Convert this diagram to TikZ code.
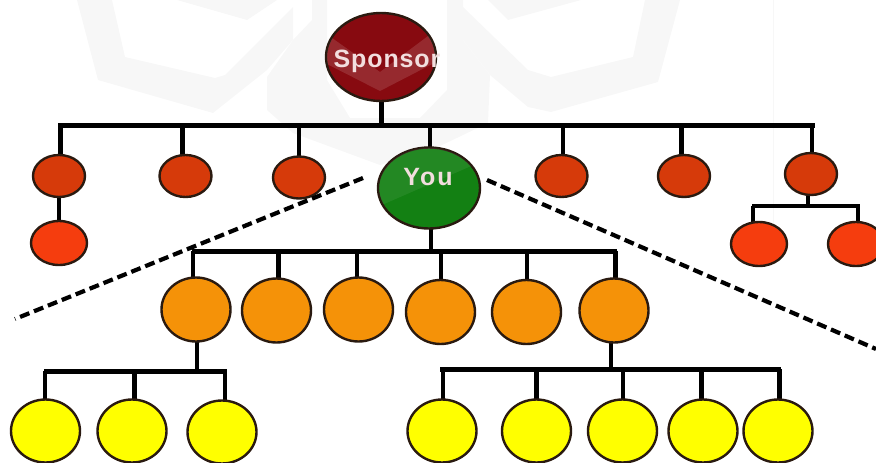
\documentclass[tikz,border=0pt]{standalone}
\usepackage{fontspec}
\setmainfont{Liberation Sans}
\usetikzlibrary{backgrounds,shapes.geometric}
\definecolor{cspon}{HTML}{870A10}
\definecolor{cred}{HTML}{D63A0A}
\definecolor{cchild}{HTML}{F53D0E}
\definecolor{cgreen}{HTML}{138013}
\definecolor{corange}{HTML}{F59208}
\definecolor{cyellow}{HTML}{FFFF00}
\definecolor{cedge}{HTML}{2A1A10}
\definecolor{cmark}{HTML}{F7F7F7}
\definecolor{ctext}{HTML}{F2DEDE}
\tikzset{
  person/.style={ellipse,draw=cedge,line width=2.4pt,inner sep=0pt},
  sponsorn/.style={person,fill=cspon,minimum width=110pt,minimum height=88pt},
  youn/.style={person,fill=cgreen,minimum width=102pt,minimum height=81pt},
  redn/.style={person,fill=cred,minimum width=52pt,minimum height=42pt},
  childn/.style={person,fill=cchild,minimum width=56pt,minimum height=44pt},
  orangen/.style={person,fill=corange,minimum width=69pt,minimum height=64pt},
  yellown/.style={person,fill=cyellow,minimum width=69pt,minimum height=63pt},
  thick5/.style={line width=5pt,black},
  thick4/.style={line width=4pt,black},
  thick3/.style={line width=3.2pt,black},
  caption/.style={anchor=base,inner sep=0pt,text=ctext,font=\fontsize{25}{25}\selectfont\bfseries},
  boundary/.style={line width=4.2pt,black,dash pattern=on 10pt off 5pt},
  watermark/.style={fill=cmark,draw=none},
  overlay/.style={fill=white,fill opacity=0.13,draw=none}
}
\begin{document}
\begin{tikzpicture}[x=1pt,y=-1pt]
\useasboundingbox (0,0) rectangle (876,463);
% nodes
\node[sponsorn] (spon) at (381,57) {};
\node[youn] (you) at (429,188) {};
\node[redn] (r1) at (59,176) {};
\node[redn] (r2) at (185.5,176) {};
\node[redn] (r3) at (299,177.5) {};
\node[redn] (r4) at (561.5,176) {};
\node[redn] (r5) at (684,176) {};
\node[redn] (r6) at (811,174) {};
\node[childn] (c1) at (59,243) {};
\node[childn] (c2) at (759,244) {};
\node[childn] (c3) at (856,244) {};
\node[orangen] (o1) at (196,309.5) {};
\node[orangen] (o2) at (276.5,310.5) {};
\node[orangen] (o3) at (358.5,309.5) {};
\node[orangen] (o4) at (440.5,312) {};
\node[orangen] (o5) at (526.5,312) {};
\node[orangen] (o6) at (614,310.5) {};
\node[yellown] (y1) at (45.5,431) {};
\node[yellown] (y2) at (132,431) {};
\node[yellown] (y3) at (222,432) {};
\node[yellown] (y4) at (442,431) {};
\node[yellown] (y5) at (536.5,431) {};
\node[yellown] (y6) at (622.5,431) {};
\node[yellown] (y7) at (703,431) {};
\node[yellown] (y8) at (778,431) {};
% faint watermark over the two large ellipses
\begin{scope}
  \clip (381,57) ellipse [x radius=54pt,y radius=43pt];
  \fill[overlay] (325,33) -- (380,72) -- (432,33) -- (440,60) -- (380,91) -- (325,63) -- cycle;
\end{scope}
\begin{scope}
  \clip (429,188) ellipse [x radius=50pt,y radius=40pt];
  \fill[overlay,fill opacity=0.07] (375,145) -- (485,145) -- (485,160) -- (375,208) -- cycle;
\end{scope}
\node[caption] (sponlabel) at (387,67) {\addfontfeature{LetterSpace=3.5}Sponsor};
\node[caption] (youlabel) at (428,185) {\addfontfeature{LetterSpace=8}You};
% bar points
\coordinate (ba) at (58,125);  \coordinate (bb) at (815,125);
\coordinate (bc) at (192,251); \coordinate (bd) at (617,251);
\coordinate (be) at (44,371);  \coordinate (bf) at (227,371);
\coordinate (bg) at (440,369); \coordinate (bh) at (781,369);
\coordinate (bi) at (752,206); \coordinate (bj) at (860,206);
\coordinate (la) at (363,178); \coordinate (lb) at (15,319);
\coordinate (ra) at (487,180); \coordinate (rb) at (876,349);
\begin{scope}[on background layer]
  % faint watermark
  \fill[watermark] (77,0) -- (98,80) -- (213,113) -- (267,70) -- (293,40) -- (293,7) -- (225,75) -- (215,78) -- (125,57) -- (112,0) -- cycle;
  \fill[watermark] (177,0) -- (247,20) -- (277,0) -- cycle;
  \fill[watermark] (488,0) -- (508,20) -- (581,0) -- cycle;
  \fill[watermark] (463,7) -- (528,70) -- (551,77) -- (633,57) -- (645,0) -- (680,0) -- (658,82) -- (551,112) -- (528,107) -- (490,75) -- (463,40) -- cycle;
  \fill[watermark] (312,0) -- (327,0) -- (327,80) -- (350,118) -- (420,118) -- (447,90) -- (447,0) -- (463,0) -- (463,40) -- (490,75) -- (488,123) -- (438,147) -- (380,165) -- (293,133) -- (267,110) -- (267,77) -- (293,40) -- (312,20) -- cycle;
  \draw[cmark,line width=1pt] (773,0) -- (773,232);
  % top level
  \draw[thick5] (spon) -- (spon |- ba);
  \draw[thick5] (ba) -- (bb);
  \foreach \n/\x/\s in {r1/60/thick5,r2/182/thick5,r3/299/thick3,you/430/thick4,r4/563/thick4,r5/681/thick5,r6/812/thick3}
    \draw[\s] (\x,125) -- (\x,0 |- \n);
  \draw[thick3] (r1) -- (c1);
  % branch of r6
  \draw[thick3] (808,174) -- (808,206);
  \draw[thick3] (bi) -- (bj);
  \draw[thick3] (753,206) -- (753,0 |- c2);
  \draw[thick3] (858,206) -- (858,0 |- c3);
  % you level
  \draw[thick4] (431,188) -- (431,251);
  \draw[thick5] (bc) -- (bd);
  \foreach \n/\x/\s in {o1/193/thick3,o2/278/thick5,o3/357/thick3,o4/441/thick4,o5/527/thick4,o6/615/thick5}
    \draw[\s] (\x,251) -- (\x,0 |- \n);
  % orange branches
  \draw[thick4] (197,310) -- (197,371);
  \draw[thick5] (be) -- (bf);
  \foreach \n/\x/\s in {y1/45/thick3,y2/134/thick5,y3/225/thick4}
    \draw[\s] (\x,371) -- (\x,0 |- \n);
  \draw[thick4] (611,310) -- (611,369);
  \draw[thick5] (bg) -- (bh);
  \foreach \n/\x/\s in {y4/443/thick4,y5/536/thick5,y6/623/thick4,y7/701/thick5,y8/779/thick5}
    \draw[\s] (\x,369) -- (\x,0 |- \n);
\end{scope}
\draw[boundary] (la) -- (lb);
\draw[boundary] (ra) -- (rb);
\end{tikzpicture}
\end{document}
